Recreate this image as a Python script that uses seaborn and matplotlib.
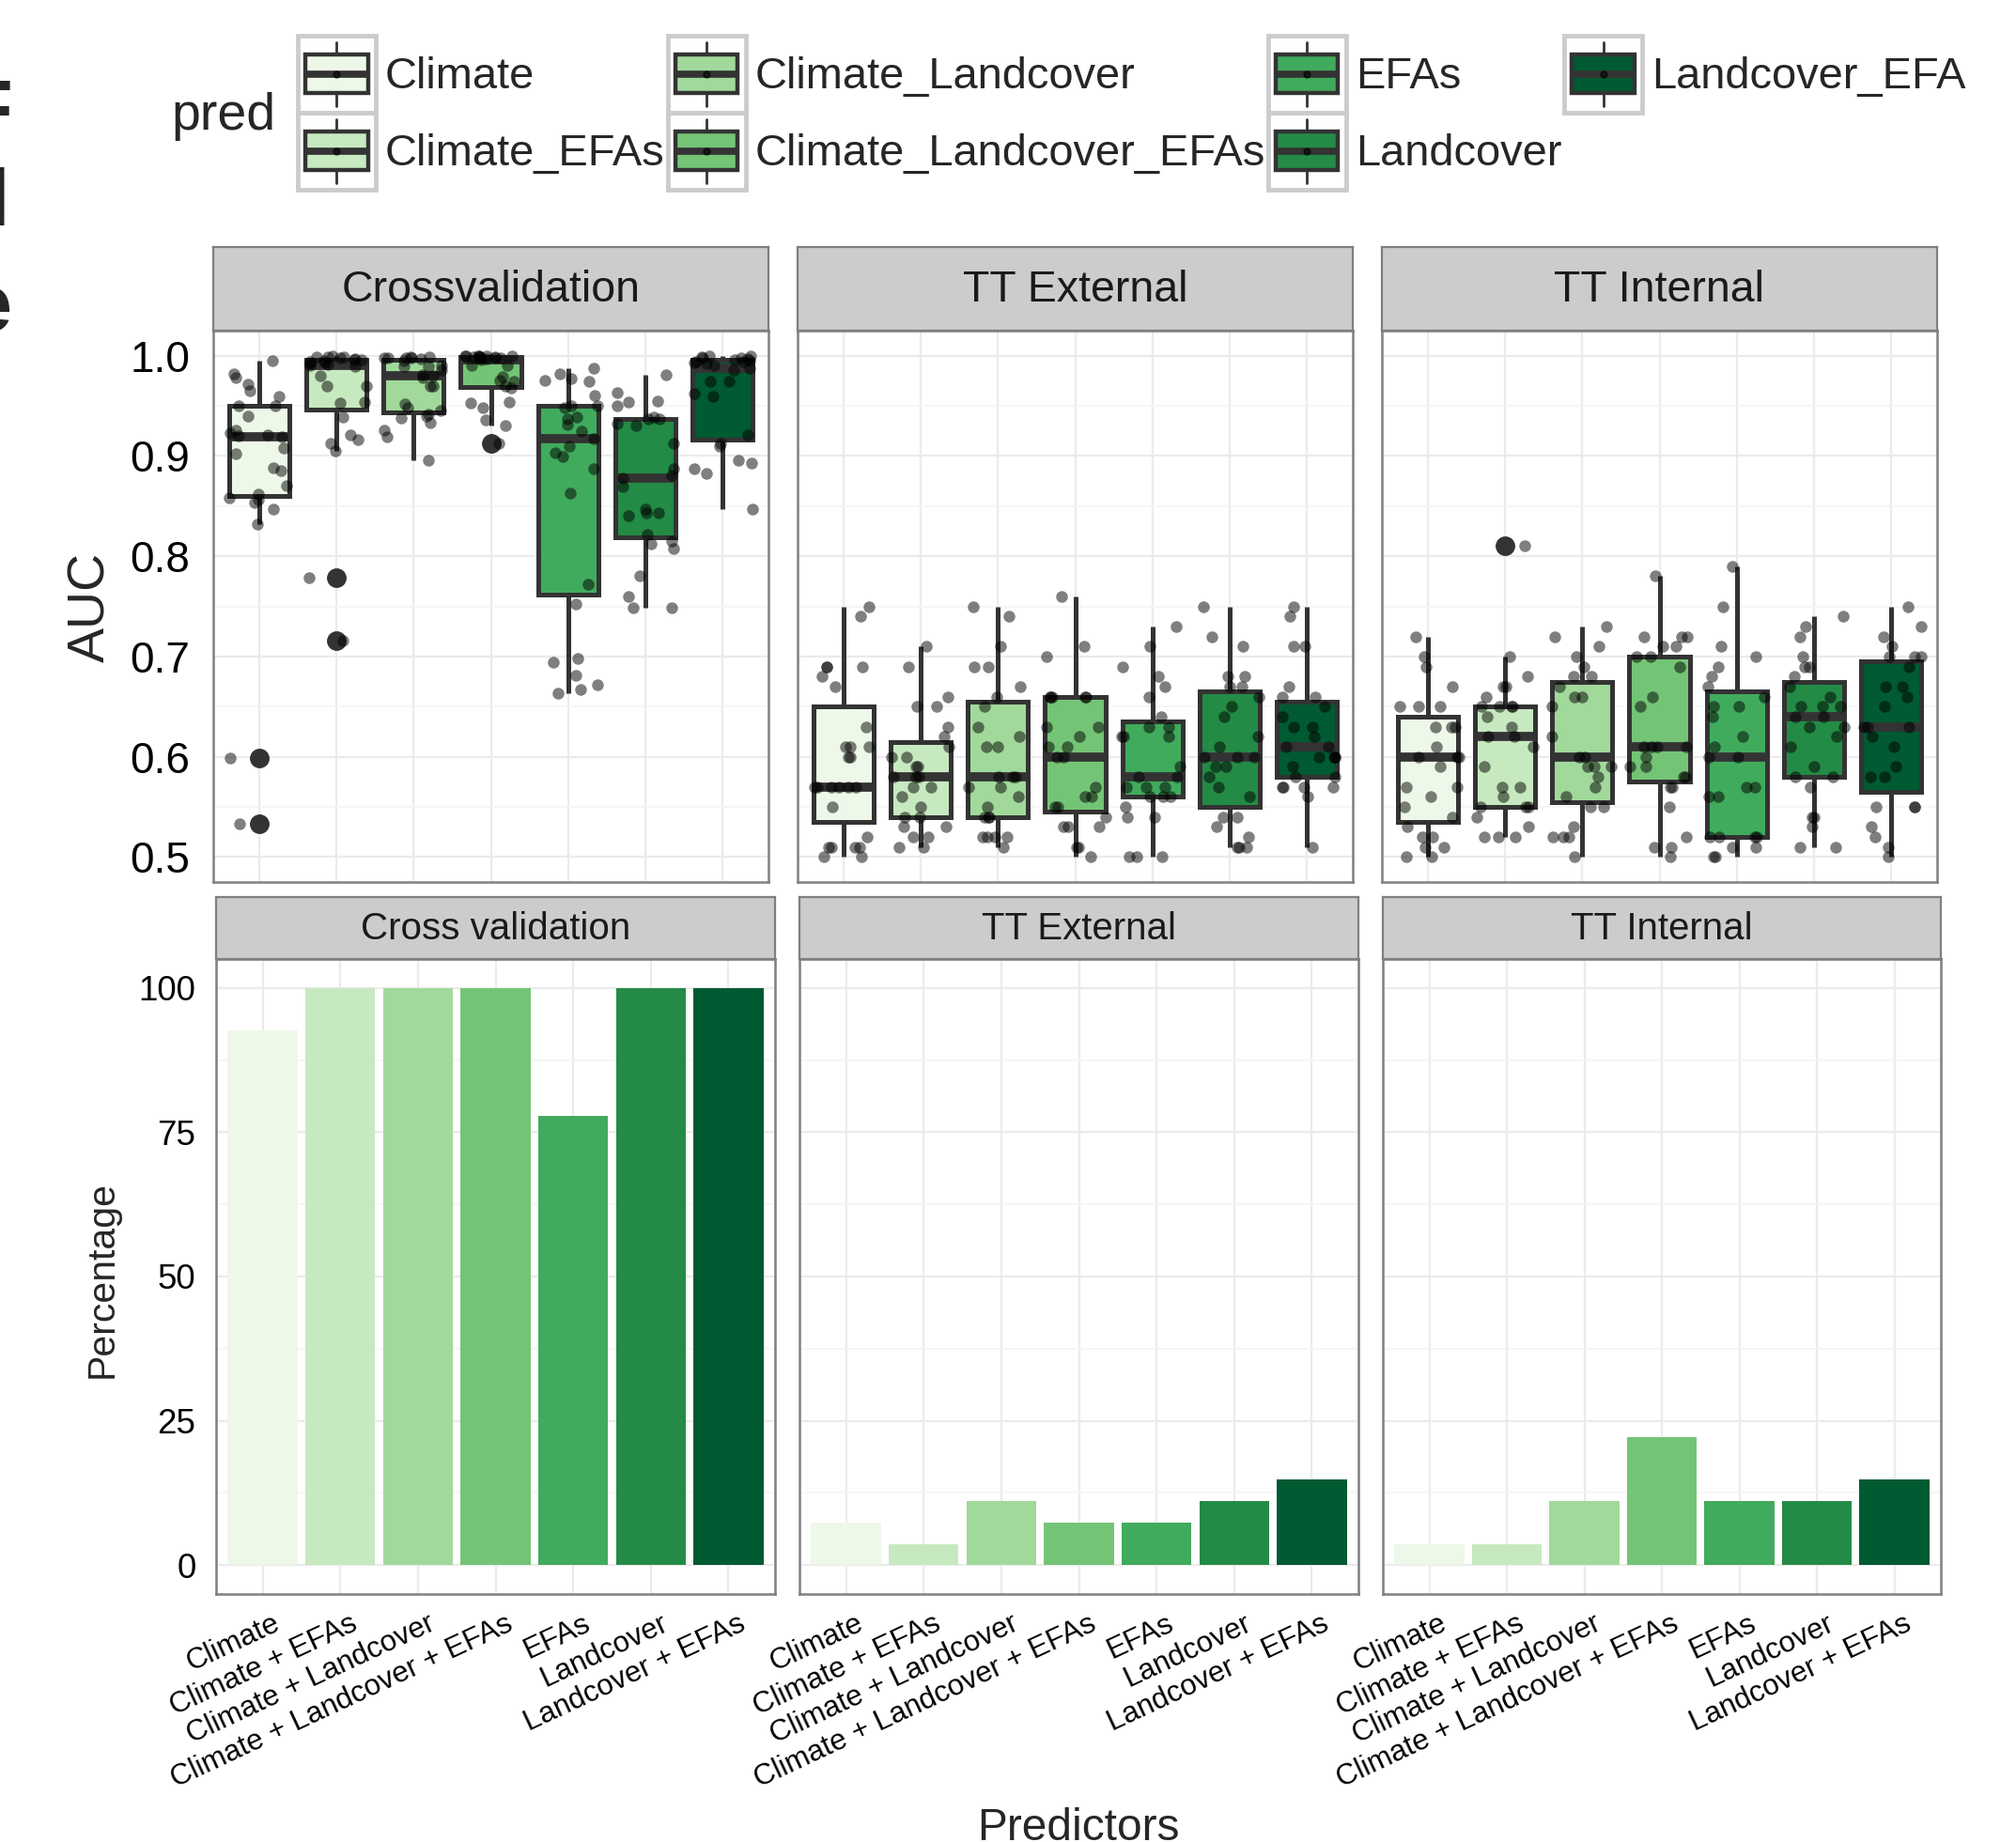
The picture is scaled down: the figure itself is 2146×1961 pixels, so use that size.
import numpy as np
import pandas as pd
import matplotlib
matplotlib.use("Agg")
import matplotlib.pyplot as plt
import seaborn as sns
from matplotlib.patches import Patch, Rectangle
from matplotlib.lines import Line2D
from matplotlib.legend_handler import HandlerBase
from matplotlib.ticker import MultipleLocator, FormatStrFormatter
from matplotlib.transforms import ScaledTranslation

W, H = 2146, 1961

# categories
preds = ["Climate", "Climate_EFAs", "Climate_Landcover", "Climate_Landcover_EFAs",
         "EFAs", "Landcover", "Landcover_EFA"]
pred_labels = ["Climate", "Climate + EFAs", "Climate + Landcover", "Climate + Landcover + EFAs",
               "EFAs", "Landcover", "Landcover + EFAs"]
greens = ["#EDF8E9", "#C7E9C0", "#A1D99B", "#74C476", "#41AB5D", "#238B45", "#005A32"]

auc_panels = ["Crossvalidation", "TT External", "TT Internal"]
pct_panels = ["Cross validation", "TT External", "TT Internal"]

# AUC values (27 species per predictor set), crossvalidation
cv_climate = [0.533, 0.599, 0.832, 0.847, 0.854, 0.856, 0.858, 0.862, 0.870, 0.885, 0.888, 0.902, 0.908, 0.919,
              0.920, 0.921, 0.923, 0.926, 0.940, 0.950, 0.950, 0.959, 0.965, 0.972, 0.978, 0.982, 0.995]
cv_clim_efa = [0.716, 0.779, 0.905, 0.913, 0.916, 0.921, 0.939, 0.953, 0.954, 0.970, 0.970, 0.980, 0.989, 0.990,
               0.991, 0.992, 0.993, 0.994, 0.995, 0.996, 0.996, 0.997, 0.998, 0.999, 0.999, 0.999, 1.000]
cv_clim_land = [0.896, 0.919, 0.926, 0.933, 0.938, 0.940, 0.942, 0.945, 0.948, 0.952, 0.970, 0.970, 0.978, 0.980,
                0.981, 0.986, 0.989, 0.989, 0.990, 0.995, 0.997, 0.998, 0.998, 0.998, 0.998, 0.999, 0.999]
cv_clim_land_efa = [0.9125, 0.930, 0.936, 0.948, 0.953, 0.954, 0.968, 0.970, 0.974, 0.975, 0.979, 0.990, 0.990, 0.996,
                    0.997, 0.998, 0.998, 0.998, 0.999, 0.999, 0.999, 1.0, 1.0, 1.0, 1.0, 1.0, 1.0]
cv_efa = [0.6637, 0.6675, 0.672, 0.681, 0.694, 0.698, 0.752, 0.772, 0.8625, 0.8875, 0.899, 0.903, 0.910, 0.9175,
          0.925, 0.931, 0.937, 0.939, 0.948, 0.950, 0.950, 0.960, 0.974, 0.975, 0.977, 0.982, 0.9875]
cv_land = [0.749, 0.749, 0.760, 0.780, 0.8075, 0.8125, 0.815, 0.822, 0.840, 0.843, 0.843, 0.847, 0.869, 0.878,
           0.881, 0.8875, 0.913, 0.930, 0.9325, 0.937, 0.937, 0.939, 0.950, 0.954, 0.955, 0.963, 0.981]
cv_land_efa = [0.847, 0.8825, 0.8875, 0.8925, 0.896, 0.910, 0.9125, 0.921, 0.959, 0.9625, 0.974, 0.974, 0.9854, 0.9875,
               0.990, 0.992, 0.993, 0.994, 0.994, 0.995, 0.996, 0.997, 0.998, 0.998, 0.999, 1.0, 1.0]

# TT external
ext_climate = [0.50, 0.50, 0.51, 0.51, 0.51, 0.51, 0.52, 0.55, 0.57, 0.57, 0.57, 0.57, 0.57, 0.57,
               0.60, 0.60, 0.61, 0.61, 0.61, 0.63, 0.67, 0.68, 0.69, 0.69, 0.69, 0.74, 0.75]
ext_clim_efa = [0.51, 0.51, 0.52, 0.52, 0.53, 0.53, 0.54, 0.54, 0.55, 0.56, 0.57, 0.57, 0.58, 0.58,
                0.58, 0.59, 0.59, 0.60, 0.60, 0.61, 0.62, 0.63, 0.65, 0.65, 0.66, 0.69, 0.71]
ext_clim_land = [0.51, 0.52, 0.52, 0.52, 0.52, 0.54, 0.54, 0.54, 0.55, 0.56, 0.57, 0.57, 0.58, 0.58,
                 0.58, 0.61, 0.61, 0.62, 0.63, 0.65, 0.66, 0.67, 0.69, 0.69, 0.71, 0.74, 0.75]
ext_clim_land_efa = [0.50, 0.51, 0.51, 0.53, 0.53, 0.53, 0.54, 0.55, 0.55, 0.56, 0.56, 0.57, 0.60, 0.60,
                     0.61, 0.61, 0.62, 0.63, 0.63, 0.66, 0.66, 0.66, 0.66, 0.66, 0.70, 0.71, 0.76]
ext_efa = [0.50, 0.50, 0.50, 0.54, 0.54, 0.55, 0.56, 0.56, 0.56, 0.57, 0.57, 0.57, 0.58, 0.58,
           0.59, 0.62, 0.62, 0.62, 0.63, 0.63, 0.64, 0.66, 0.67, 0.68, 0.69, 0.71, 0.73]
ext_land = [0.51, 0.51, 0.51, 0.52, 0.53, 0.54, 0.54, 0.56, 0.57, 0.58, 0.59, 0.59, 0.60, 0.60,
            0.60, 0.61, 0.62, 0.64, 0.65, 0.66, 0.67, 0.67, 0.68, 0.68, 0.71, 0.72, 0.75]
ext_land_efa = [0.51, 0.56, 0.57, 0.57, 0.57, 0.57, 0.58, 0.58, 0.59, 0.60, 0.60, 0.60, 0.60, 0.61,
                0.61, 0.62, 0.63, 0.63, 0.64, 0.65, 0.66, 0.66, 0.67, 0.71, 0.71, 0.74, 0.75]

# TT internal
int_climate = [0.50, 0.50, 0.51, 0.51, 0.52, 0.52, 0.53, 0.54, 0.55, 0.56, 0.57, 0.57, 0.59, 0.60,
               0.60, 0.60, 0.61, 0.63, 0.63, 0.63, 0.65, 0.65, 0.65, 0.67, 0.69, 0.70, 0.72]
int_clim_efa = [0.52, 0.52, 0.52, 0.53, 0.54, 0.55, 0.55, 0.55, 0.56, 0.57, 0.57, 0.59, 0.61, 0.62,
                0.62, 0.63, 0.64, 0.65, 0.65, 0.65, 0.65, 0.66, 0.67, 0.67, 0.68, 0.70, 0.81]
int_clim_land = [0.50, 0.52, 0.52, 0.52, 0.53, 0.55, 0.55, 0.56, 0.57, 0.58, 0.59, 0.59, 0.59, 0.60,
                 0.60, 0.62, 0.65, 0.66, 0.66, 0.67, 0.68, 0.68, 0.69, 0.70, 0.71, 0.72, 0.73]
int_clim_land_efa = [0.50, 0.51, 0.51, 0.52, 0.55, 0.57, 0.57, 0.58, 0.58, 0.59, 0.59, 0.60, 0.61, 0.61,
                     0.61, 0.61, 0.65, 0.66, 0.69, 0.70, 0.70, 0.71, 0.71, 0.72, 0.72, 0.72, 0.78]
int_efa = [0.50, 0.50, 0.51, 0.51, 0.52, 0.52, 0.52, 0.52, 0.56, 0.56, 0.57, 0.57, 0.60, 0.60,
           0.61, 0.62, 0.64, 0.65, 0.65, 0.66, 0.67, 0.68, 0.69, 0.70, 0.71, 0.75, 0.79]
int_land = [0.51, 0.51, 0.53, 0.54, 0.54, 0.57, 0.58, 0.58, 0.59, 0.61, 0.62, 0.63, 0.63, 0.64,
            0.64, 0.65, 0.65, 0.65, 0.66, 0.67, 0.68, 0.69, 0.69, 0.70, 0.72, 0.73, 0.74]
int_land_efa = [0.50, 0.51, 0.52, 0.53, 0.55, 0.55, 0.55, 0.58, 0.58, 0.59, 0.61, 0.62, 0.63, 0.63,
                0.63, 0.65, 0.66, 0.67, 0.67, 0.69, 0.70, 0.70, 0.70, 0.71, 0.72, 0.73, 0.75]

# percentage of species with AUC > 0.7
pct_cv = [92.6, 100, 100, 100, 77.8, 100, 100]
pct_ext = [7.4, 3.7, 11.1, 7.4, 7.4, 11.1, 14.8]
pct_int = [3.7, 3.7, 11.1, 22.2, 11.1, 11.1, 14.8]

auc_groups = {
    "Crossvalidation": [cv_climate, cv_clim_efa, cv_clim_land, cv_clim_land_efa, cv_efa, cv_land, cv_land_efa],
    "TT External": [ext_climate, ext_clim_efa, ext_clim_land, ext_clim_land_efa, ext_efa, ext_land, ext_land_efa],
    "TT Internal": [int_climate, int_clim_efa, int_clim_land, int_clim_land_efa, int_efa, int_land, int_land_efa],
}
rows = []
for panel, groups in auc_groups.items():
    for pred, vals in zip(preds, groups):
        for v in vals:
            rows.append((panel, pred, v))
auc_df = pd.DataFrame(rows, columns=["validation", "pred", "auc"])
pct_values = [pct_cv, pct_ext, pct_int]

sns.set_style("white")
plt.rcParams["font.family"] = ["Liberation Sans", "DejaVu Sans"]

fig = plt.figure(figsize=(W / 100, H / 100), dpi=100)


def px_rect(x0, x1, y0, y1):
    return [x0 / W, 1 - y1 / H, (x1 - x0) / W, (y1 - y0) / H]


def add_strip(x0, x1, y0, y1, text, size):
    sax = fig.add_axes(px_rect(x0, x1, y0, y1))
    sax.set_facecolor("#CCCCCC")
    sax.set_xticks([])
    sax.set_yticks([])
    for s in sax.spines.values():
        s.set_color("#7F7F7F")
        s.set_linewidth(1.6)
    sax.text(0.5, 0.48, text, ha="center", va="center", fontsize=size, color="#1A1A1A",
             transform=sax.transAxes)


def style_panel(ax):
    for s in ax.spines.values():
        s.set_color("#7F7F7F")
        s.set_linewidth(1.8)
    ax.set_axisbelow(True)
    ax.grid(which="major", color="#EBEBEB", linewidth=1.6)
    ax.grid(which="minor", axis="y", color="#F5F5F5", linewidth=1.2)
    ax.tick_params(which="minor", length=0)
    ax.set_xlabel("")
    ax.set_ylabel("")


# top row: AUC boxplots with jittered points
np.random.seed(11)
top_x = [(227, 818), (849, 1440), (1471, 2062)]
for i, (panel, (x0, x1)) in enumerate(zip(auc_panels, top_x)):
    ax = fig.add_axes(px_rect(x0, x1, 352, 939))
    sub = auc_df[auc_df["validation"] == panel]
    sns.boxplot(data=sub, x="pred", y="auc", hue="pred", order=preds, hue_order=preds,
                palette=greens, saturation=1, width=0.78, linewidth=3.6, linecolor="#333333",
                showcaps=False, fliersize=14,
                flierprops=dict(marker="o", markerfacecolor="#333333", markeredgecolor="#333333"),
                medianprops=dict(linewidth=7, solid_capstyle="butt"),
                legend=False, ax=ax)
    sns.stripplot(data=sub, x="pred", y="auc", order=preds, color="black", alpha=0.5,
                  jitter=0.4, size=9, linewidth=0, ax=ax)
    ax.set_xlim(-0.6, 6.6)
    ax.set_ylim(0.475, 1.025)
    ax.yaxis.set_major_locator(MultipleLocator(0.1))
    ax.yaxis.set_minor_locator(MultipleLocator(0.05))
    ax.yaxis.set_major_formatter(FormatStrFormatter("%.1f"))
    ax.set_xticks(range(len(preds)))
    style_panel(ax)
    ax.tick_params(axis="x", which="major", length=5, width=2.2, color="black", labelbottom=False)
    if i == 0:
        ax.tick_params(axis="y", which="major", length=10, width=2.2, pad=8, labelsize=33,
                       color="black", labelcolor="black")
    else:
        ax.tick_params(axis="y", which="major", left=False, labelleft=False)
    add_strip(x0, x1, 263, 352, panel, 33.5)

# bottom row: percentage bars
bot_x = [(230, 825), (851, 1446), (1472, 2066)]
for i, (panel, vals, (x0, x1)) in enumerate(zip(pct_panels, pct_values, bot_x)):
    ax = fig.add_axes(px_rect(x0, x1, 1021, 1697))
    sns.barplot(x=pred_labels, y=vals, hue=pred_labels, order=pred_labels, hue_order=pred_labels,
                palette=greens, saturation=1, width=0.9, linewidth=0, legend=False, ax=ax)
    ax.set_xlim(-0.6, 6.6)
    ax.set_ylim(-5, 105)
    ax.yaxis.set_major_locator(MultipleLocator(25))
    ax.yaxis.set_minor_locator(MultipleLocator(12.5))
    style_panel(ax)
    ax.set_xticks(range(len(pred_labels)))
    ax.set_xticklabels(pred_labels, rotation=25, ha="right", va="top", rotation_mode="anchor",
                       fontsize=22.5, color="black")
    ax.tick_params(axis="x", which="major", length=8, width=2.5, pad=4, color="black")
    for lab in ax.get_xticklabels():
        lab.set_transform(lab.get_transform() + ScaledTranslation(0.10, 0, fig.dpi_scale_trans))
    if i == 0:
        ax.tick_params(axis="y", which="major", length=10, width=2.2, pad=5.5, labelsize=26.5,
                       color="black", labelcolor="black")
    else:
        ax.tick_params(axis="y", which="major", left=False, labelleft=False)
    add_strip(x0, x1, 955, 1021, panel, 29)


# legend with mini boxplot keys
class BoxKey(HandlerBase):
    def create_artists(self, legend, orig_handle, xdescent, ydescent, width, height, fontsize, trans):
        x0, y0 = -xdescent, -ydescent
        cx = x0 + width / 2
        fill = orig_handle.get_facecolor()
        frame = Rectangle((x0, y0), width, height, facecolor="white", edgecolor="#CCCCCC",
                          lw=3.5, transform=trans)
        box = Rectangle((x0 + 0.1 * width, y0 + 0.25 * height), 0.8 * width, 0.5 * height,
                        facecolor=fill, edgecolor="#333333", lw=3.2, transform=trans)
        lo = Line2D([cx, cx], [y0 + 0.08 * height, y0 + 0.25 * height], color="#333333", lw=2,
                    transform=trans)
        hi = Line2D([cx, cx], [y0 + 0.75 * height, y0 + 0.92 * height], color="#333333", lw=2,
                    transform=trans)
        med = Line2D([x0 + 0.1 * width, x0 + 0.9 * width], [y0 + 0.5 * height] * 2, color="#333333",
                     lw=5.5, solid_capstyle="butt", transform=trans)
        dot = Line2D([cx], [y0 + 0.5 * height], marker="o", ms=5, color="black", alpha=0.6, lw=0,
                     transform=trans)
        return [frame, lo, hi, box, med, dot]


handles = [Patch(facecolor=c) for c in greens]
fig.legend(handles, preds, handler_map={Patch: BoxKey()}, ncol=4, loc="upper left",
           bbox_to_anchor=(317 / W, 1 - 38 / H), bbox_transform=fig.transFigure,
           frameon=False, fontsize=33.8, handlelength=1.768, handleheight=2.31,
           handletextpad=0.213, columnspacing=0.06, labelspacing=0, borderpad=0, borderaxespad=0)
fig.text(182 / W, 1 - 124 / H, "pred", ha="left", va="center", fontsize=40)

# axis titles
fig.text(97 / W, 1 - 646 / H, "AUC", rotation=90, ha="center", va="center", fontsize=40)
fig.text(109 / W, 1 - 1362 / H, "Percentage", rotation=90, ha="center", va="center", fontsize=29.5)
fig.text(1148 / W, 1 - 1924 / H, "Predictors", ha="center", va="top", fontsize=34.5)

# clipped panel letters at the left edge
fig.text(13 / W, 1 - 144 / H, "F", ha="right", va="baseline", fontsize=61, fontweight="bold")
fig.text(10 / W, 1 - 240 / H, "l", ha="right", va="baseline", fontsize=61, fontweight="bold")
fig.text(13 / W, 1 - 352 / H, "e", ha="right", va="baseline", fontsize=61, fontweight="bold")

fig.savefig("out.png", dpi=100)
